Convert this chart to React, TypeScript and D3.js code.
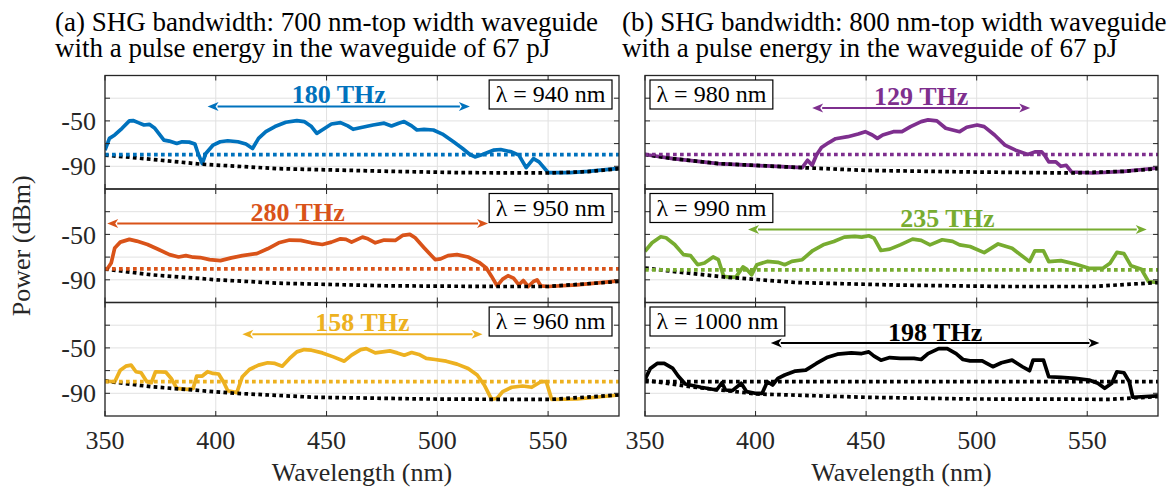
import React from 'react'
import { scaleLinear, line } from 'd3'

// axis values
const wavelengthTicks = [350, 400, 450, 500, 550]
const powerTicks = [-30, -50, -70, -90]
const powerLabels = [-50, -90]
const xDomain = [350, 582]
const yDomain = [-110, -10]

const titlesA = ['(a) SHG bandwidth: 700 nm-top width waveguide', 'with a pulse energy in the waveguide of 67 pJ']
const titlesB = ['(b) SHG bandwidth: 800 nm-top width waveguide', 'with a pulse energy in the waveguide of 67 pJ']

// SHG spectra [wavelength nm, power dBm]
const sig940 = [[350, -75.8], [352, -65.4], [354.4, -62.4], [357.7, -56.5], [361, -50], [362.7, -49.7], [365, -51.5], [367.6, -53.6], [370, -53], [372.5, -56.5], [376.6, -66.9], [379, -67.8], [382.4, -69.9], [384.8, -68.4], [388, -68.7], [390.6, -70.4], [392, -78.7], [393.9, -87.6], [395.5, -78.7], [398.8, -71.3], [402, -68.4], [405.4, -67.5], [410, -68.4], [413.6, -70.4], [416.6, -74.3], [419.3, -65.4], [422.6, -59.5], [426.7, -55], [431.6, -51.2], [436.6, -49.7], [439.9, -50.6], [443.2, -55], [445.6, -61], [448, -58], [452.2, -52.7], [456.3, -51.5], [459.6, -54.4], [462, -57.4], [466.2, -55.6], [471, -53.6], [476, -52], [479.3, -54.4], [482.6, -52], [485, -50.6], [488.4, -54.4], [490.8, -58], [494, -57.4], [498.2, -58], [502.3, -61.6], [507.3, -68.4], [511.4, -74.3], [514.7, -79.6], [517, -81.7], [520.4, -79.6], [525.3, -75.8], [528.6, -75.2], [533.5, -77.3], [536.8, -80.2], [540.1, -91.2], [543.4, -83.2], [545.9, -86.1], [550, -95.5], [559.9, -95.5], [568, -94.4], [582, -91.8]]
const floor940 = [[350, -80.2], [359.4, -81.7], [393.9, -88.2], [428.4, -92.1], [477.7, -94.4], [510.6, -95.6], [550, -95.9], [568, -94.7], [582, -92.1]]

const sig950 = [[350, -80.5], [351, -80.5], [352.8, -75.2], [354.4, -61.9], [356.9, -56.8], [361, -54.4], [364.3, -55.9], [369.2, -58.9], [374.2, -63.3], [379.1, -67.8], [383.2, -69.9], [386.5, -68.7], [389.8, -70.1], [393, -70.4], [397.2, -72.2], [402.1, -73.1], [407, -70.7], [412, -68.7], [418.5, -66.9], [423.4, -62.7], [428.4, -57.4], [433.3, -55], [438.3, -55.3], [443.2, -57.4], [448.1, -58.9], [452.2, -56.8], [456.3, -53.9], [458.8, -54.4], [461.3, -56.8], [466.2, -52.4], [468.7, -53.9], [472, -57.4], [476, -55], [481, -55.3], [484.3, -50.9], [487.6, -50], [490, -53], [494.1, -61.9], [499, -72.2], [501.5, -71.6], [504.8, -68.7], [508.9, -67.8], [513.9, -69.9], [518.8, -74.6], [522.1, -79.6], [524.5, -87], [527, -95.3], [529.5, -89.4], [531.9, -86.4], [534.4, -88.5], [536.8, -94.4], [538.8, -90.6], [541, -95.9], [543.4, -91.5], [545, -90], [546.7, -95.3], [550, -95.9], [563, -94.4], [582, -90.9]]
const floor950 = [[350, -80.5], [370.9, -85.6], [400.4, -90], [428.4, -93], [477.7, -95.3], [527, -95.9], [550, -95.9], [582, -91.5]]

const sig960 = [[350, -79.2], [354.4, -79.8], [356.9, -69.6], [359.4, -66.1], [361.8, -65.2], [364, -71], [366.3, -71.9], [368.9, -79.8], [370.9, -80.7], [372.8, -71], [377.4, -71.3], [379.9, -76.9], [382.4, -85.6], [387.3, -86.5], [389.8, -85.6], [391.4, -74.8], [393.9, -74.8], [396.3, -71], [398.8, -72.5], [401.3, -73], [403.7, -80.7], [405.4, -87.7], [409.5, -89.4], [412, -75.4], [415.2, -69], [419.3, -65.2], [423.4, -63.1], [426.7, -63.7], [430, -66.1], [433.3, -59.3], [436.6, -53.5], [439.9, -51.5], [443.2, -52], [448.1, -54.4], [453.1, -57.9], [458, -61.7], [461.3, -56.4], [465.4, -51.5], [467.9, -50.6], [472, -54.4], [475.3, -53.5], [478.6, -52.6], [481.9, -54.4], [485.1, -56.4], [488.4, -54.1], [491.7, -55.8], [495, -59.3], [499, -60.2], [504, -61.7], [508.9, -64.3], [513.9, -68.1], [518, -73.9], [521.2, -82.7], [524.5, -95.3], [527, -94.4], [529.5, -88.5], [533.6, -84.7], [538.5, -83.6], [542.6, -84.7], [546.7, -79.8], [549.2, -79.8], [551.6, -95.3], [563.2, -95], [582, -91.5]]
const floor960 = [[350, -79.2], [370.9, -84.2], [408.7, -90], [444.8, -93.5], [494.1, -95], [527, -95.3], [551.6, -95.3], [582, -91.5]]

const sig980 = [[350, -79.6], [362.6, -83.2], [383.2, -87.6], [421.1, -91.2], [423.5, -84.7], [425.6, -89.1], [427.5, -80.2], [429.8, -73.4], [433, -69.3], [436.2, -65.7], [441.7, -63.9], [446.4, -61.6], [449.6, -59.5], [452.8, -62.4], [455.1, -65.4], [457.5, -62.4], [462.3, -59.5], [466.2, -59.5], [470.1, -55], [474.9, -50.6], [478, -49.1], [482, -50], [486, -56.5], [492.3, -59.5], [495.5, -55.6], [500.2, -53.6], [503.4, -55], [508.1, -62.4], [512.8, -71.3], [517.6, -75.8], [523.1, -79.6], [526.3, -77.3], [529.4, -77.3], [531, -81.1], [532.6, -86.1], [535.8, -86.1], [538.1, -90], [540.5, -89.1], [542.9, -95], [552.4, -95.9], [566.6, -94.4], [582, -91.5]]
const floor980 = [[350, -79.6], [362.6, -83.2], [383.2, -87.6], [421.1, -91.2], [449.6, -93.6], [497, -95], [542.9, -95.9], [566.6, -94.4], [582, -92.1]]

const sig990 = [[350, -64.8], [353.2, -57.4], [357.1, -52.1], [359.5, -53], [363.4, -58.9], [367.4, -67.8], [370.6, -68.7], [373.8, -76.7], [376.9, -75.2], [380.8, -69.9], [383.2, -72.3], [385.6, -87], [388, -87.6], [391.1, -87.6], [394.3, -78.7], [395.9, -80.5], [398.2, -85.6], [400.6, -76.7], [405.3, -73.8], [410.1, -74.6], [413.2, -76.7], [416.4, -73.8], [421.1, -72.3], [425.9, -64.2], [430.6, -59.2], [435.4, -56.2], [440.1, -52.4], [444.9, -51.7], [448, -52.4], [451.2, -51.2], [453.6, -53.3], [456.7, -64.2], [460.7, -63], [465.4, -59.2], [471, -54.2], [474.9, -55.3], [478.9, -59.2], [484.4, -54.7], [489.1, -56.2], [492.3, -59.2], [497, -60.7], [503.4, -66.1], [509.7, -58.4], [516, -62.2], [523.9, -74], [526.3, -64.5], [530.2, -64.5], [532.6, -74], [538.1, -73.1], [544.5, -76.1], [550.8, -79.9], [557.1, -79.9], [560.3, -75.5], [563.4, -65.9], [566.6, -66.9], [569.8, -77.7], [574.5, -80.7], [577.7, -91.6], [582, -92.4]]
const floor990 = [[350, -79.6], [362.6, -82.6], [386.4, -87.6], [418, -92.4], [465.4, -94.7], [512.8, -95.9], [552.4, -95.9], [582, -92.4]]

const sig1000 = [[350, -77.7], [352.4, -68.1], [355.5, -63.7], [358.7, -63.7], [362.6, -68.1], [365, -74.8], [368.2, -81.8], [375.3, -84.7], [382.4, -87.1], [384.8, -80.7], [386.4, -87.1], [389.5, -87.7], [393.5, -81.2], [395.9, -88.5], [399.8, -90], [403, -90], [405.3, -79.8], [407.7, -82.7], [410.1, -76.9], [413.2, -73.9], [418, -70.4], [422.7, -69.6], [427.5, -63.7], [432.2, -58.5], [437, -55.5], [443.3, -54.4], [448, -55], [451.2, -53.5], [453.6, -57.3], [456.7, -60.8], [460.7, -58.5], [465.4, -59.3], [471.7, -59.3], [474.9, -60.2], [478, -55], [482.8, -50.6], [486.7, -50.6], [490.7, -55], [493.8, -60.2], [497, -61.4], [502.5, -61.4], [507.3, -66.6], [511.2, -63.1], [516, -60.8], [520.7, -66.6], [523.9, -70.1], [525.5, -60.8], [530.2, -60.8], [532.6, -75.4], [538.1, -76], [544.5, -76.9], [550.8, -78.3], [554.8, -81.2], [557.9, -85.6], [561.1, -81.2], [563.4, -71], [566.6, -71.9], [569, -79.8], [570.6, -93.5], [582, -92.3]]
const floor1000 = [[350, -78.3], [370.6, -84.2], [400.6, -90.6], [449.6, -93.5], [497, -95], [560.3, -95.3], [582, -92.9]]

const pumpLabels = ['λ = 940 nm', 'λ = 950 nm', 'λ = 960 nm', 'λ = 980 nm', 'λ = 990 nm', 'λ = 1000 nm']
const thresholds = [-79.8, -80.3, -79.8, -79.6, -81.2, -79.8]
const bandwidthLabels = ['180 THz', '280 THz', '158 THz', '129 THz', '235 THz', '198 THz']
// arrow start, end (nm) and height (dBm)
const arrowFrom = [396.3, 351, 412, 425.6, 396.6, 406.9]
const arrowTo = [514.7, 522.9, 520.4, 524.2, 576.9, 555.5]
const arrowLevel = [-37.3, -40.5, -38, -38.7, -45.6, -45.6]
const labelLevel = [-26.5, -30.5, -27.5, -28, -35.5, -36]

const signals = [sig940, sig950, sig960, sig980, sig990, sig1000]
const floors = [floor940, floor950, floor960, floor980, floor990, floor1000]
const colors = ['#0072BD', '#D95319', '#EDB120', '#7E2F8E', '#77AC30', '#000000']

const FONT = '"Liberation Serif", "Times New Roman", serif'
const colX = [[105, 619], [645, 1158]]
const rowTop = [75.5, 189, 302.5]
const rowH = 113.5

const measure = (txt: string, font: string) => {
  const c = document.createElement('canvas').getContext('2d')
  if (!c) return txt.length * 11
  c.font = font
  return c.measureText(txt).width
}

const Panel = ({ idx }: { idx: number }) => {
  const col = idx < 3 ? 0 : 1
  const row = idx % 3
  const x = scaleLinear().domain(xDomain).range(colX[col])
  const y = scaleLinear().domain(yDomain).range([rowTop[row] + rowH, rowTop[row]])
  const path = line<number[]>().x(d => x(d[0])).y(d => y(d[1]))
  const [x0, x1] = colX[col]
  const y0 = rowTop[row]
  const y1 = rowTop[row] + rowH
  const color = colors[idx]

  const boxW = measure(pumpLabels[idx], '24px ' + FONT) + 13
  const boxX = col === 0 ? x1 - 7 - boxW : x0 + 5
  const boxY = y0 + 4.5

  const ay = y(arrowLevel[idx])
  const ax0 = x(arrowFrom[idx])
  const ax1 = x(arrowTo[idx])
  const head = 11
  const hw = 4.5

  return (
    <g>
      <clipPath id={'clip' + idx}>
        <rect x={x0} y={y0} width={x1 - x0} height={y1 - y0} />
      </clipPath>
      {wavelengthTicks.map(t => (
        <line key={'gx' + t} x1={x(t)} x2={x(t)} y1={y0} y2={y1} stroke="#e1e1e1" strokeWidth={1} />
      ))}
      {powerTicks.map(t => (
        <line key={'gy' + t} x1={x0} x2={x1} y1={y(t)} y2={y(t)} stroke="#e1e1e1" strokeWidth={1} />
      ))}
      <g clipPath={`url(#clip${idx})`}>
        <path d={path(signals[idx]) || ''} fill="none" stroke={color} strokeWidth={3.7} strokeLinejoin="round" />
        <path d={path(floors[idx]) || ''} fill="none" stroke="#000" strokeWidth={3.7} strokeDasharray="3.7 3.3" />
        <path d={path([[xDomain[0], thresholds[idx]], [xDomain[1], thresholds[idx]]]) || ''} fill="none" stroke={color} strokeWidth={3.7} strokeDasharray="3.7 3.3" />
      </g>
      {/* ticks */}
      {wavelengthTicks.map(t => (
        <g key={'tx' + t}>
          <line x1={x(t)} x2={x(t)} y1={y1} y2={y1 - 5} stroke="#262626" />
          <line x1={x(t)} x2={x(t)} y1={y0} y2={y0 + 5} stroke="#262626" />
        </g>
      ))}
      {powerTicks.map(t => (
        <g key={'ty' + t}>
          <line x1={x0} x2={x0 + 5} y1={y(t)} y2={y(t)} stroke="#262626" />
          <line x1={x1} x2={x1 - 5} y1={y(t)} y2={y(t)} stroke="#262626" />
        </g>
      ))}
      <rect x={x0} y={y0} width={x1 - x0} height={y1 - y0} fill="none" stroke="#262626" strokeWidth={1.3} />
      {col === 0 && powerLabels.map(t => (
        <text key={'ly' + t} x={x0 - 9} y={y(t)} dy="0.35em" textAnchor="end" fontSize={26} fontFamily={FONT} fill="#262626">{t}</text>
      ))}
      {row === 2 && wavelengthTicks.map(t => (
        <text key={'lx' + t} x={x(t)} y={449} textAnchor="middle" fontSize={26} fontFamily={FONT} fill="#262626">{t}</text>
      ))}
      {/* pump box */}
      <rect x={boxX} y={boxY} width={boxW} height={29} fill="#fff" stroke="#000" strokeWidth={1.2} />
      <text x={boxX + boxW / 2} y={boxY + 22} textAnchor="middle" fontSize={24} fontFamily={FONT} fill="#000">{pumpLabels[idx]}</text>
      {/* bandwidth arrow */}
      <line x1={ax0 + head - 1} x2={ax1 - head + 1} y1={ay} y2={ay} stroke={color} strokeWidth={2} />
      <path d={`M${ax0},${ay}L${ax0 + head},${ay - hw}L${ax0 + head - 3},${ay}L${ax0 + head},${ay + hw}Z`} fill={color} />
      <path d={`M${ax1},${ay}L${ax1 - head},${ay - hw}L${ax1 - head + 3},${ay}L${ax1 - head},${ay + hw}Z`} fill={color} />
      <text x={(ax0 + ax1) / 2} y={y(labelLevel[idx])} dy="0.35em" textAnchor="middle" fontSize={26} fontWeight="bold" fontFamily={FONT} fill={color}>{bandwidthLabels[idx]}</text>
    </g>
  )
}

const App = () => {
  return (
    <svg width={1168} height={493} style={{ position: 'absolute', left: 0, top: 0, background: '#fff' }}>
      <rect width={1168} height={493} fill="#fff" />
      {[0, 1, 2, 3, 4, 5].map(i => <Panel key={i} idx={i} />)}
      {titlesA.map((t, i) => (
        <text key={'ta' + i} x={55} y={31 + i * 25.5} fontSize={27} fontFamily={FONT} fill="#000">{t}</text>
      ))}
      {titlesB.map((t, i) => (
        <text key={'tb' + i} x={622} y={31 + i * 25.5} fontSize={27} fontFamily={FONT} fill="#000">{t}</text>
      ))}
      <text x={(colX[0][0] + colX[0][1]) / 2} y={481} textAnchor="middle" fontSize={26} fontFamily={FONT} fill="#262626">Wavelength (nm)</text>
      <text x={(colX[1][0] + colX[1][1]) / 2} y={481} textAnchor="middle" fontSize={26} fontFamily={FONT} fill="#262626">Wavelength (nm)</text>
      <text transform={`translate(30, ${(rowTop[0] + rowTop[2] + rowH) / 2}) rotate(-90)`} textAnchor="middle" fontSize={26} fontFamily={FONT} fill="#262626">Power (dBm)</text>
    </svg>
  )
}

export default App
